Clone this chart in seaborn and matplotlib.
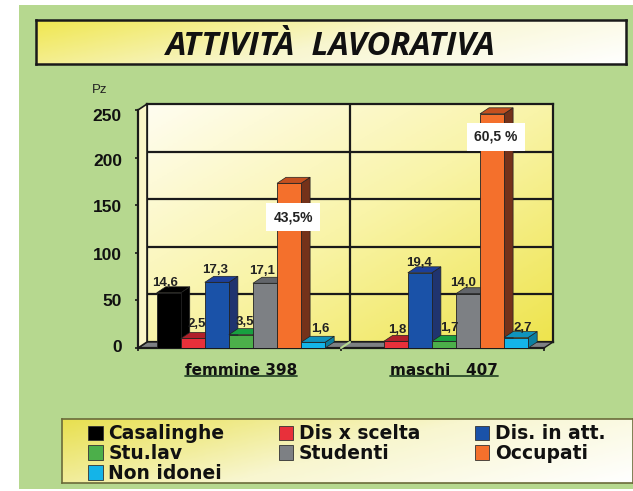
import numpy as np
import pandas as pd
import matplotlib
matplotlib.use("Agg")
import matplotlib.pyplot as plt
from matplotlib.colors import LinearSegmentedColormap
from matplotlib.lines import Line2D
from matplotlib.patches import Polygon, Rectangle, Patch
from matplotlib.transforms import ScaledTranslation
import seaborn as sns

groups = ["femmine 398", "maschi   407"]
activities = ["Casalinghe", "Dis x scelta", "Dis. in att.", "Stu.lav", "Studenti", "Occupati", "Non idonei"]
femmine = [58, 10, 69, 14, 68, 173, 6]
maschi = [0, 7, 79, 7, 57, 246, 11]
femmine_labels = ["14,6", "2,5", "17,3", "3,5", "17,1", "43,5%", "1,6"]
maschi_labels = ["", "1,8", "19,4", "1,7", "14,0", "60,5 %", "2,7"]
colors = ["#000000", "#e8303a", "#1a52a8", "#4caf4a", "#7d8084", "#f4702c", "#14b4e8"]
side_colors = ["#000000", "#8a1c20", "#20346f", "#1f7a35", "#55585c", "#74321a", "#0c7fa0"]
top_colors = ["#000000", "#b0202a", "#1c3f9a", "#18a040", "#62656a", "#c4501f", "#0f93bd"]
y_ticks = [0, 50, 100, 150, 200, 250]

# label nudges in px (x, above the bar top), same order as the labels
label_dx = [-4, 4, -2, 4, -3, 4, 7, 0, 1, -1, 5, -5, 4, 7]
label_dy = [10, 14, 12, 13, 12, -34, 13, 0, 11, 10, 13, 11, -23, 10]
# the tick labels sit a bit lower than their ticks going up the axis, px
y_label_drop = [-2, 0, 1, 1, 2.4, 5]

W, H = 633, 491
DX, DY = 9, 6  # depth of the fake 3d, px
DARK = "#1a1a1a"


def px_axes(fig, x0, y0, x1, y1, **kw):
    return fig.add_axes([x0 / W, 1 - y1 / H, (x1 - x0) / W, (y1 - y0) / H], **kw)


def gradient(ax, c0, c1, c2, wx=0.5):
    # diagonal gradient, top left to bottom right
    cmap = LinearSegmentedColormap.from_list("g", [c0, c1, c2])
    xx, yy = np.meshgrid(np.linspace(0, 1, 80), np.linspace(0, 1, 80))
    ax.imshow(wx * xx + (1 - wx) * yy, cmap=cmap, aspect="auto", extent=(0, 1, 0, 1), zorder=0, vmin=0, vmax=1)
    ax.set_xticks([])
    ax.set_yticks([])


sns.set_theme(style="white")
plt.rcParams["font.family"] = ["Liberation Sans", "DejaVu Sans"]
fig = plt.figure(figsize=(W / 100, H / 100), dpi=100, facecolor="white")

# green page
bg = px_axes(fig, 19, 5, W, 489)
bg.set_facecolor("#b6d88f")
bg.set_xticks([])
bg.set_yticks([])
sns.despine(ax=bg, left=True, bottom=True, top=True, right=True)

# title box
title_ax = px_axes(fig, 36, 20, 626, 64)
gradient(title_ax, "#f0e750", "#f8f6cf", "#ffffff", wx=0.75)
for s in title_ax.spines.values():
    s.set_linewidth(1.8)
    s.set_color(DARK)
fig.text(331 / W, 1 - 55 / H, "ATTIVITÀ  LAVORATIVA", ha="center", va="baseline",
         fontsize=23.5, fontweight="bold", style="italic", family="Open Sans", color="#111111", zorder=5)

# back wall, shifted from the axes by the depth
wall = px_axes(fig, 147, 104, 553, 342)
gradient(wall, "#fffdf0", "#f9f4a8", "#eee44e")
for s in wall.spines.values():
    s.set_linewidth(1.6)
    s.set_color(DARK)
for v in y_ticks[1:-1]:
    wall.axhline(v / 250, color=DARK, lw=1.6, zorder=1)
wall.axvline(0.5, color=DARK, lw=1.6, zorder=1)
wall.set_xlim(0, 1)
wall.set_ylim(0, 1)

# bars
df = pd.DataFrame({
    "gruppo": np.repeat(groups, len(activities)),
    "attivita": activities * 2,
    "pz": femmine + maschi,
})
ax = px_axes(fig, 138, 110, 544, 348)
ax.patch.set_alpha(0)
sns.barplot(data=df, x="gruppo", y="pz", hue="attivita", hue_order=activities, palette=colors,
            width=0.83, gap=0, saturation=1, ax=ax, legend=False, zorder=5)
ax.set_ylim(0, 250)
ax.set_xlim(-0.507, 1.493)
ax.set_xlabel("")
ax.set_ylabel("")
ax.set_yticks(y_ticks)
ax.set_yticklabels(y_ticks, fontsize=12.5, fontweight="bold", color="#111111")
ax.set_xticks([0, 1])
ax.set_xticklabels(groups, fontsize=11, fontweight="bold", family="DejaVu Sans", color="#111111")
ax.set_xticks([-0.507, 0.493, 1.493], minor=True)
ax.tick_params(axis="x", which="major", length=0, pad=11)
ax.tick_params(axis="x", which="minor", length=2.5, width=1.2, color=DARK, bottom=True)
ax.tick_params(axis="y", length=2.2, width=1.2, color=DARK, pad=9.4, left=True)
sns.despine(ax=ax, top=True, right=True)
for s in ("left", "bottom"):
    ax.spines[s].set_linewidth(1.6)
    ax.spines[s].set_color(DARK)
for lab, drop in zip(ax.get_yticklabels(), y_label_drop):
    lab.set_transform(lab.get_transform() + ScaledTranslation(0, -drop / 100, fig.dpi_scale_trans))

to_px = ax.transData
from_px = ax.transData.inverted()


def shifted(x, y):
    px, py = to_px.transform((x, y))
    return from_px.transform((px + DX, py + DY))


# floor and left side wall
x_a, x_b = ax.get_xlim()
ax.add_patch(Polygon([(x_a, 0), (x_b, 0), shifted(x_b, 0), shifted(x_a, 0)], closed=True,
                     fc="#7d8084", ec=DARK, lw=1, zorder=2, clip_on=False))
ax.add_patch(Polygon([(x_a, 0), (x_a, 250), shifted(x_a, 250), shifted(x_a, 0)], closed=True,
                     fc="#faf6c8", ec=DARK, lw=1.2, zorder=2, clip_on=False))
ax.plot([0.493, shifted(0.493, 0)[0]], [0, shifted(0.493, 0)[1]], color="#b6d88f", lw=1.5, zorder=3, clip_on=False)

n = len(activities)
labels = femmine_labels + maschi_labels
bars = sorted([p for p in ax.patches if isinstance(p, Rectangle)], key=lambda p: p.get_x())
bars = [p for p in bars if p.get_width() < 0.5]
for i, p in enumerate(bars):
    x0, x1 = p.get_x(), p.get_x() + p.get_width()
    h = p.get_height()
    k = i % n
    z = 5 + k * 0.1
    p.set_zorder(z + 0.05)
    p.set_edgecolor("#222222")
    p.set_linewidth(0.6)
    if h > 0:
        ax.add_patch(Polygon([(x1, 0), (x1, h), shifted(x1, h), shifted(x1, 0)], closed=True,
                             fc=side_colors[k], ec="#222222", lw=0.5, zorder=z, clip_on=False))
        ax.add_patch(Polygon([(x0, h), (x1, h), shifted(x1, h), shifted(x0, h)], closed=True,
                             fc=top_colors[k], ec="#222222", lw=0.5, zorder=z, clip_on=False))
    if not labels[i]:
        continue
    xc = (x0 + x1) / 2
    if "%" in labels[i]:
        ax.annotate(labels[i], (xc, h), xytext=(label_dx[i], label_dy[i]), textcoords="offset pixels",
                    ha="center", va="center", fontsize=10, fontweight="bold", color="#222222", zorder=9,
                    bbox=dict(fc="white", ec="none", pad=5), annotation_clip=False)
    else:
        ax.annotate(labels[i], (xc, h), xytext=(label_dx[i], label_dy[i]), textcoords="offset pixels",
                    ha="center", va="center", fontsize=9.5, fontweight="bold", color="#222222", zorder=9,
                    annotation_clip=False)

fig.text(99.5 / W, 1 - 90 / H, "Pz", fontsize=9.5, color="#222222", ha="center", va="center")

# underline of the group names
fig.canvas.draw()
renderer = fig.canvas.get_renderer()
for g in ax.get_xticklabels():
    box = g.get_window_extent(renderer)
    fig.add_artist(Line2D([box.x0 / W, box.x1 / W], [1 - 376 / H, 1 - 376 / H], color="#2a4a2a", lw=1.3))

# legend box
leg_ax = px_axes(fig, 62, 419, W, 483)
gradient(leg_ax, "#e8e050", "#f8f6cf", "#ffffff", wx=0.7)
for s in leg_ax.spines.values():
    s.set_linewidth(1.2)
    s.set_color("#6b6b3a")
handles = [Patch(fc=c, ec="#333333", lw=0.6) for c in colors]
order = [0, 3, 6, 1, 4, 2, 5]
leg_ax.legend([handles[i] for i in order], [activities[i] for i in order], ncol=3, loc="upper left",
              bbox_to_anchor=(0.0455, 0.92), borderaxespad=0, borderpad=0, frameon=False,
              handlelength=0.78, handleheight=0.78, handletextpad=0.3,
              labelspacing=0.05, columnspacing=2.9, labelcolor="#111111",
              prop={"family": "DejaVu Sans", "weight": "bold", "size": 13.5})

fig.savefig("out.png", dpi=100)
